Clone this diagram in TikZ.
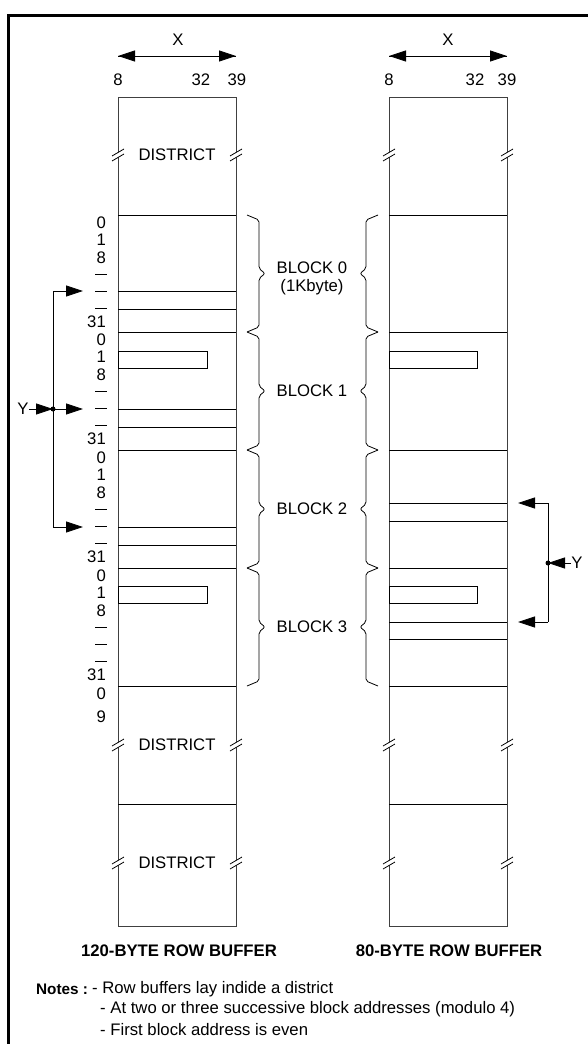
\documentclass[tikz,border=0pt]{standalone}
\usepackage{fontspec}
\setmainfont{Liberation Sans}
\usetikzlibrary{arrows.meta}

\begin{document}
\begin{tikzpicture}[x=1pt,y=-1pt,
    txt/.style={inner sep=0pt,font=\fontsize{16.7}{20}\selectfont},
    bold/.style={inner sep=0pt,font=\fontsize{16.7}{20}\selectfont\bfseries},
    addr/.style={txt,anchor=east},
    wall/.style={line width=0.9pt,black!75},
    row/.style={line width=0.8pt},
    tip/.style={-{Triangle[length=17pt,width=11pt]},line width=0.8pt}]
  \useasboundingbox (0,0) rectangle (588,1044);
  \draw[line width=3pt] (8,1050) -- (8,15) -- (595,15);

  % the two row buffers
  \draw[wall] (118,97) rectangle (236,926);
  \draw[wall] (389,97) rectangle (507,926);
  \foreach \cx in {118,389}
    \foreach \cy in {215,332,450,568,686,804}
      \draw[row] (\cx,\cy) -- ++(118,0);
  \foreach \cy in {291,309,409,427,527,545}
    \draw[row] (118,\cy) -- (236,\cy);
  \foreach \cy in {503,521,622,639}
    \draw[row] (389,\cy) -- (507,\cy);
  \draw[row] (118,351) rectangle (207,368);
  \draw[row] (118,586) rectangle (207,603);
  \draw[row] (389,351) rectangle (477,368);
  \draw[row] (389,586) rectangle (477,603);

  % cut marks
  \foreach \cx in {118,236,389,507}
    \foreach \cy in {155,745,863} {
      \fill[white] (\cx-6,\cy+1) -- (\cx+6,\cy-6) -- (\cx+6,\cy-1) -- (\cx-6,\cy+6) -- cycle;
      \draw[row] (\cx-6,\cy+1) -- (\cx+6,\cy-6) (\cx-6,\cy+6) -- (\cx+6,\cy-1);
    }
  \node[txt] (dist1) at (177,155) {DISTRICT};
  \node[txt] (dist2) at (177,745) {DISTRICT};
  \node[txt] (dist3) at (177,863) {DISTRICT};

  % X widths
  \coordinate (xl1) at (118,56); \coordinate (xr1) at (236,56);
  \coordinate (xl2) at (389,56); \coordinate (xr2) at (507,56);
  \draw[tip] (xl1) -- (xr1); \draw[tip] (xr1) -- (xl1);
  \draw[tip] (xl2) -- (xr2); \draw[tip] (xr2) -- (xl2);
  \node[txt] (xa) at (178,40) {X};
  \node[txt] (xb) at (448,40) {X};
  \node[txt] (c8a) at (118,80) {8};
  \node[txt] (c32a) at (201,80) {32};
  \node[txt] (c39a) at (237,80) {39};
  \node[txt] (c8b) at (389,80) {8};
  \node[txt] (c32b) at (475,80) {32};
  \node[txt] (c39b) at (507,80) {39};

  % row addresses and blocks
  \foreach \b/\e/\n in {215/332/0,332/450/1,450/568/2,568/686/3} {
    \node[addr] (r0b\n) at (106,\b+8) {0};
    \node[addr] (r1b\n) at (106,\b+25) {1};
    \node[addr] (r8b\n) at (106,\b+43) {8};
    \node[addr] (r31b\n) at (106,\b+107) {31};
    \foreach \d in {59,76,93}
      \draw[row] (95,\b+\d) -- (107,\b+\d);
    \draw[row,rounded corners=2pt] (247,\b) -- (259,\b+5) -- (259,{(\b+\e)/2-5}) -- (265,{(\b+\e)/2})
      -- (259,{(\b+\e)/2+5}) -- (259,\e-5) -- (247,\e);
    \draw[row,rounded corners=2pt] (378,\b) -- (366,\b+5) -- (366,{(\b+\e)/2-5}) -- (360,{(\b+\e)/2})
      -- (366,{(\b+\e)/2+5}) -- (366,\e-5) -- (378,\e);
  }
  \node[addr] (r0end) at (106,694) {0};
  \node[addr] (r9end) at (106,717) {9};
  \node[txt] (blk0) at (312,268) {BLOCK 0};
  \node[txt] (kb) at (312,287) {(1Kbyte)};
  \node[txt] (blk1) at (312,391) {BLOCK 1};
  \node[txt] (blk2) at (312,509) {BLOCK 2};
  \node[txt] (blk3) at (312,627) {BLOCK 3};

  % Y left
  \coordinate (ya) at (53,291); \coordinate (ym) at (53,409); \coordinate (yb) at (53,527);
  \coordinate (ta) at (83,291); \coordinate (tm) at (83,409); \coordinate (tb) at (83,527);
  \node[txt] (yl) at (23,409) {Y};
  \draw[row] (ya) -- (yb);
  \draw[tip] (ya) -- (ta);
  \draw[tip] (ym) -- (tm);
  \draw[tip] (yb) -- (tb);
  \draw[tip] (yl.east) -- (ym);
  \fill (ym) circle (2.5);

  % Y right
  \coordinate (za) at (548,503); \coordinate (zm) at (548,563); \coordinate (zb) at (548,622);
  \coordinate (sa) at (518,503); \coordinate (sb) at (518,622);
  \node[txt] (yr) at (577,563) {Y};
  \draw[row] (za) -- (zb);
  \draw[tip] (za) -- (sa);
  \draw[tip] (zb) -- (sb);
  \draw[tip] (yr.west) -- (zm);
  \fill (zm) circle (2.5);

  % captions and notes
  \node[bold] (cap1) at (179,951) {120-BYTE ROW BUFFER};
  \node[bold] (cap2) at (449,951) {80-BYTE ROW BUFFER};
  \node[inner sep=0pt,font=\fontsize{15.3}{18}\selectfont\bfseries,anchor=west] (notes) at (36,989) {Notes :};
  \node[txt,anchor=west] (n1) at (92,989) {- Row buffers lay indide a district};
  \node[txt,anchor=west] (n2) at (100,1009) {- At two or three successive block addresses (modulo 4)};
  \node[txt,anchor=west] (n3) at (100,1030) {- First block address is even};
\end{tikzpicture}
\end{document}
